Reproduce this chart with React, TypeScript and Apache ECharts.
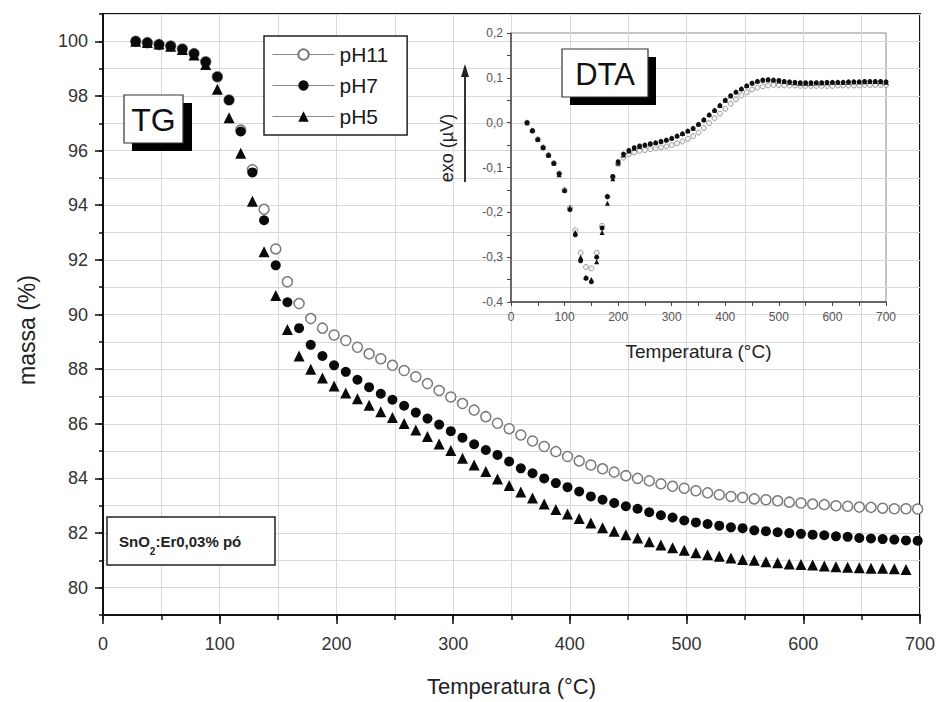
import React, { useEffect, useRef } from 'react';
import * as echarts from 'echarts';

// ---------- TG data (main plot) ----------
const tgTemps = [28, 38, 48, 58, 68, 78, 88, 98, 108, 118, 128, 138, 148, 158, 168, 178, 188, 198, 208, 218, 228, 238, 248, 258, 268, 278, 288, 298, 308, 318, 328, 338, 348, 358, 368, 378, 388, 398, 408, 418, 428, 438, 448, 458, 468, 478, 488, 498, 508, 518, 528, 538, 548, 558, 568, 578, 588, 598, 608, 618, 628, 638, 648, 658, 668, 678, 688, 698];

const tgPH11 = [100.0, 99.95, 99.88, 99.83, 99.72, 99.55, 99.25, 98.7, 97.85, 96.75,
  95.3, 93.85, 92.4, 91.2, 90.4, 89.85, 89.5, 89.25, 89.05, 88.8,
  88.56, 88.38, 88.14, 87.95, 87.72, 87.47, 87.22, 86.98, 86.74, 86.5,
  86.26, 86.02, 85.82, 85.59, 85.37, 85.17, 84.98, 84.8, 84.64, 84.49,
  84.35, 84.23, 84.1, 84.0, 83.91, 83.8, 83.71, 83.64, 83.55, 83.47,
  83.4, 83.34, 83.3, 83.25, 83.22, 83.18, 83.13, 83.1, 83.06, 83.04,
  83.0, 82.98, 82.95, 82.94, 82.91, 82.89, 82.89, 82.88];

const tgPH7 = [100.0, 99.95, 99.88, 99.83, 99.72, 99.55, 99.25, 98.7, 97.85, 96.7,
  95.2, 93.45, 91.8, 90.45, 89.5, 88.89, 88.48, 88.14, 87.9, 87.61,
  87.34, 87.1, 86.88, 86.66, 86.41, 86.19, 85.97, 85.73, 85.49, 85.25,
  85.04, 84.86, 84.62, 84.37, 84.19, 84.0, 83.83, 83.68, 83.52, 83.34,
  83.22, 83.1, 82.98, 82.89, 82.76, 82.65, 82.57, 82.46, 82.39, 82.33,
  82.27, 82.21, 82.18, 82.1, 82.07, 82.03, 82.0, 81.97, 81.94, 81.92,
  81.88, 81.86, 81.82, 81.8, 81.78, 81.76, 81.73, 81.72];

const tgPH5 = [100.0, 99.96, 99.9, 99.82, 99.7, 99.5, 99.15, 98.25, 97.2, 95.9,
  94.15, 92.3, 90.7, 89.45, 88.48, 88.0, 87.68, 87.38, 87.13, 86.92,
  86.68, 86.44, 86.23, 86.01, 85.77, 85.53, 85.26, 85.02, 84.74, 84.49,
  84.25, 83.98, 83.74, 83.5, 83.28, 83.06, 82.86, 82.7, 82.53, 82.37,
  82.19, 82.07, 81.94, 81.82, 81.68, 81.56, 81.46, 81.37, 81.28, 81.21,
  81.15, 81.09, 81.03, 81.0, 80.95, 80.91, 80.87, 80.85, 80.83, 80.79,
  80.77, 80.75, 80.73, 80.71, 80.71, 80.69, 80.67];

// ---------- DTA data (inset) ----------
const dtaTemps = [30, 40, 50, 60, 70, 80, 90, 100, 110, 120, 130, 140, 150, 160, 170, 180, 190, 200, 210, 220, 230, 240, 250, 260, 270, 280, 290, 300, 310, 320, 330, 340, 350, 360, 370, 380, 390, 400, 410, 420, 430, 440, 450, 460, 470, 480, 490, 500, 510, 520, 530, 540, 550, 560, 570, 580, 590, 600, 610, 620, 630, 640, 650, 660, 670, 680, 690, 700];

const dtaPH11 = [0.0, -0.018, -0.037, -0.055, -0.072, -0.09, -0.113, -0.15, -0.19, -0.24,
  -0.29, -0.322, -0.325, -0.29, -0.23, -0.165, -0.122, -0.092, -0.078, -0.07,
  -0.066, -0.063, -0.061, -0.059, -0.057, -0.055, -0.053, -0.05, -0.046, -0.042,
  -0.036, -0.03, -0.022, -0.012, -0.001, 0.01, 0.02, 0.031, 0.042, 0.052,
  0.061, 0.068, 0.074, 0.078, 0.081, 0.083, 0.084, 0.084, 0.083, 0.083,
  0.083, 0.082, 0.082, 0.082, 0.082, 0.082, 0.082, 0.082, 0.083, 0.083,
  0.083, 0.083, 0.083, 0.084, 0.084, 0.084, 0.084, 0.084];

const dtaPH7 = [0.0, -0.018, -0.038, -0.056, -0.073, -0.091, -0.114, -0.152, -0.194, -0.25,
  -0.308, -0.347, -0.355, -0.3, -0.235, -0.165, -0.12, -0.087, -0.07, -0.062,
  -0.056, -0.052, -0.05, -0.047, -0.045, -0.042, -0.039, -0.035, -0.03, -0.025,
  -0.019, -0.013, -0.004, 0.006, 0.017, 0.027, 0.038, 0.05, 0.06, 0.068,
  0.075, 0.082, 0.088, 0.092, 0.095, 0.096, 0.095, 0.094, 0.092, 0.091,
  0.09, 0.089, 0.089, 0.089, 0.089, 0.089, 0.09, 0.09, 0.09, 0.09,
  0.091, 0.091, 0.091, 0.092, 0.092, 0.092, 0.092, 0.091];

const dtaPH5 = [0.0, -0.017, -0.037, -0.055, -0.072, -0.09, -0.116, -0.15, -0.19, -0.245,
  -0.3, -0.345, -0.35, -0.31, -0.245, -0.18, -0.125, -0.09, -0.072, -0.063,
  -0.057, -0.053, -0.05, -0.047, -0.044, -0.041, -0.038, -0.034, -0.029, -0.024,
  -0.018, -0.012, -0.003, 0.007, 0.018, 0.028, 0.039, 0.05, 0.06, 0.069,
  0.076, 0.083, 0.089, 0.093, 0.095, 0.096, 0.095, 0.093, 0.092, 0.09,
  0.089, 0.088, 0.088, 0.088, 0.089, 0.089, 0.089, 0.09, 0.09, 0.09,
  0.09, 0.091, 0.091, 0.091, 0.092, 0.092, 0.091, 0.09];

// ---------- tick labels ----------
const tgXTicks = [0, 100, 200, 300, 400, 500, 600, 700];
const tgYTicks = [80, 82, 84, 86, 88, 90, 92, 94, 96, 98, 100];
const dtaXTicks = [0, 100, 200, 300, 400, 500, 600, 700];
const dtaYTicks = [-0.4, -0.3, -0.2, -0.1, 0, 0.1, 0.2];

const seriesNames = ['pH11', 'pH7', 'pH5'];

const FONT = '"Liberation Sans", Arial, Helvetica, sans-serif';

const pairs = (xs: number[], ys: number[]) => ys.map((y, i) => [xs[i], y]);

const fmtComma = (v: number) => {
  if (Math.abs(v) < 1e-9) return '0,0';
  return v.toFixed(1).replace('.', ',');
};

export default function App() {
  const ref = useRef<HTMLDivElement>(null);

  useEffect(() => {
    if (!ref.current) return;
    const chart = echarts.init(ref.current, undefined, { renderer: 'svg' });

    const gridLine = { show: true, lineStyle: { color: '#d9d9d9', width: 1 } };

    const option: any = {
      animation: false,
      backgroundColor: '#fff',
      textStyle: { fontFamily: FONT },
      grid: [
        { left: 103, right: 21, top: 14, bottom: 85, show: true, borderColor: '#111', borderWidth: 2, backgroundColor: 'transparent' },
        { left: 511, right: 55, top: 33, bottom: 400, show: true, borderColor: '#8a8a8a', borderWidth: 1, backgroundColor: 'transparent' },
      ],
      legend: {
        data: seriesNames,
        orient: 'vertical',
        left: 264,
        top: 36,
        itemWidth: 62,
        itemHeight: 13,
        itemGap: 10,
        padding: [8, 19, 8, 8],
        borderColor: '#222',
        borderWidth: 1.5,
        backgroundColor: '#fff',
        selectedMode: false,
        textStyle: { fontSize: 21, color: '#1a1a1a', fontFamily: FONT },
        lineStyle: { color: '#8a8a8a', width: 1, opacity: 1 },
        z: 20,
      },
      xAxis: [
        {
          gridIndex: 0, type: 'value', min: 0, max: 700, interval: 50,
          axisLine: { show: true, onZero: false, lineStyle: { color: '#111', width: 2 } },
          axisTick: { show: true, length: 5, lineStyle: { color: '#111', width: 1.5 } },
          axisLabel: { show: false },
          splitLine: gridLine,
        },
        {
          gridIndex: 0, type: 'value', min: 0, max: 700, position: 'bottom',
          axisLine: { show: false },
          axisTick: { show: true, customValues: tgXTicks, length: 9, lineStyle: { color: '#111', width: 1.5 } },
          axisLabel: { show: true, customValues: tgXTicks, fontSize: 18, color: '#333', margin: 20, fontFamily: FONT },
          splitLine: { show: false },
          name: 'Temperatura (°C)',
          nameLocation: 'middle',
          nameGap: 60,
          nameTextStyle: { fontSize: 22, color: '#222', fontFamily: FONT },
        },
        {
          gridIndex: 1, type: 'value', min: 0, max: 700, interval: 50,
          axisLine: { show: true, onZero: false, lineStyle: { color: '#444', width: 1.5 } },
          axisTick: { show: true, length: 4, lineStyle: { color: '#444', width: 1 } },
          axisLabel: { show: true, customValues: dtaXTicks, fontSize: 12, color: '#555', margin: 9, fontFamily: FONT },
          splitLine: { show: false },
          name: 'Temperatura (°C)',
          nameLocation: 'middle',
          nameGap: 40,
          nameTextStyle: { fontSize: 19, color: '#222', fontFamily: FONT },
        },
      ],
      yAxis: [
        {
          gridIndex: 0, type: 'value', min: 79, max: 101, interval: 1,
          axisLine: { show: true, onZero: false, lineStyle: { color: '#111', width: 2 } },
          axisTick: { show: true, length: 4, lineStyle: { color: '#111', width: 1.5 } },
          axisLabel: { show: false },
          splitLine: gridLine,
        },
        {
          gridIndex: 0, type: 'value', min: 79, max: 101, position: 'left',
          axisLine: { show: false },
          axisTick: { show: true, customValues: tgYTicks, length: 8, lineStyle: { color: '#111', width: 1.5 } },
          axisLabel: { show: true, customValues: tgYTicks, fontSize: 18, color: '#333', margin: 15, fontFamily: FONT },
          splitLine: { show: false },
        },
        {
          gridIndex: 1, type: 'value', min: -0.4, max: 0.2, interval: 0.05,
          axisLine: { show: true, onZero: false, lineStyle: { color: '#444', width: 1.5 } },
          axisTick: { show: true, length: 4, lineStyle: { color: '#444', width: 1 } },
          axisLabel: { show: true, customValues: dtaYTicks, fontSize: 12, color: '#555', margin: 8, fontFamily: FONT, formatter: (v: number) => fmtComma(v) },
          splitLine: { show: false },
        },
      ],
      series: [
        {
          name: 'pH11', type: 'line', xAxisIndex: 0, yAxisIndex: 0,
          data: pairs(tgTemps, tgPH11),
          symbol: 'circle', symbolSize: 10, showSymbol: true, showAllSymbol: true,
          lineStyle: { width: 0, opacity: 0 },
          itemStyle: { color: '#ffffff', borderColor: '#7a7a7a', borderWidth: 1.5, opacity: 1 },
          silent: true, z: 3,
        },
        {
          name: 'pH7', type: 'line', xAxisIndex: 0, yAxisIndex: 0,
          data: pairs(tgTemps, tgPH7),
          symbol: 'circle', symbolSize: 10, showSymbol: true, showAllSymbol: true,
          lineStyle: { width: 0, opacity: 0 },
          itemStyle: { color: '#0a0a0a', opacity: 1 },
          silent: true, z: 4,
        },
        {
          name: 'pH5', type: 'line', xAxisIndex: 0, yAxisIndex: 0,
          data: pairs(tgTemps, tgPH5),
          symbol: 'triangle', symbolSize: 11, showSymbol: true, showAllSymbol: true,
          lineStyle: { width: 0, opacity: 0 },
          itemStyle: { color: '#0a0a0a', opacity: 1 },
          silent: true, z: 5,
        },
        {
          name: 'DTA pH11', type: 'scatter', xAxisIndex: 2, yAxisIndex: 2,
          data: pairs(dtaTemps, dtaPH11),
          symbol: 'circle', symbolSize: 5,
          itemStyle: { color: '#f2f2f2', borderColor: '#9a9a9a', borderWidth: 1, opacity: 1 },
          silent: true, z: 3,
        },
        {
          name: 'DTA pH7', type: 'scatter', xAxisIndex: 2, yAxisIndex: 2,
          data: pairs(dtaTemps, dtaPH7),
          symbol: 'circle', symbolSize: 5,
          itemStyle: { color: '#111', opacity: 1 },
          silent: true, z: 4,
        },
        {
          name: 'DTA pH5', type: 'scatter', xAxisIndex: 2, yAxisIndex: 2,
          data: pairs(dtaTemps, dtaPH5),
          symbol: 'triangle', symbolSize: 5,
          itemStyle: { color: '#111', opacity: 1 },
          silent: true, z: 5,
        },
      ],
      graphic: [
        // y-axis title main
        {
          type: 'text', x: 27, y: 330, rotation: Math.PI / 2, z: 30,
          style: { text: 'massa (%)', fontSize: 23, fontFamily: FONT, fill: '#222', align: 'center', verticalAlign: 'middle' },
        },
        // inset y-axis title
        {
          type: 'text', x: 447, y: 148, rotation: Math.PI / 2, z: 30,
          style: { text: 'exo (µV)', fontSize: 18, fontFamily: FONT, fill: '#222', align: 'center', verticalAlign: 'middle' },
        },
        // exo arrow
        { type: 'line', z: 30, shape: { x1: 465, y1: 182, x2: 465, y2: 74 }, style: { stroke: '#333', lineWidth: 2 } },
        { type: 'polygon', z: 30, shape: { points: [[465, 64], [461, 77], [469, 77]] }, style: { fill: '#222' } },
        // TG box
        { type: 'rect', z: 30, shape: { x: 132, y: 103, width: 60, height: 48 }, style: { fill: '#000' } },
        { type: 'rect', z: 31, shape: { x: 124, y: 95, width: 59, height: 48 }, style: { fill: '#fff', stroke: '#333', lineWidth: 1.2 } },
        {
          type: 'text', z: 32, x: 153.5, y: 120,
          style: { text: 'TG', fontSize: 32, fontFamily: FONT, fill: '#111', align: 'center', verticalAlign: 'middle' },
        },
        // DTA box
        { type: 'rect', z: 30, shape: { x: 570, y: 57, width: 86, height: 48 }, style: { fill: '#000' } },
        { type: 'rect', z: 31, shape: { x: 562, y: 49, width: 86, height: 48 }, style: { fill: '#fff', stroke: '#333', lineWidth: 1.2 } },
        {
          type: 'text', z: 32, x: 605, y: 74,
          style: { text: 'DTA', fontSize: 31, fontFamily: FONT, fill: '#111', align: 'center', verticalAlign: 'middle' },
        },
        // sample label
        { type: 'rect', z: 30, shape: { x: 107, y: 517, width: 168, height: 48 }, style: { fill: '#fff', stroke: '#222', lineWidth: 1.5 } },
        {
          type: 'text', z: 31, x: 119, y: 541,
          style: {
            text: '{a|SnO}{s|2}{a|:Er0,03% pó}',
            align: 'left', verticalAlign: 'middle',
            rich: {
              a: { fontSize: 15, fontWeight: 'bold', fontFamily: FONT, fill: '#222', lineHeight: 30, verticalAlign: 'middle' },
              s: { fontSize: 10, fontWeight: 'bold', fontFamily: FONT, fill: '#222', lineHeight: 10, verticalAlign: 'bottom' },
            },
          },
        },
      ],
    };

    chart.setOption(option);
    return () => chart.dispose();
  }, []);

  return (
    <div
      ref={ref}
      style={{ position: 'absolute', left: 0, top: 0, width: 941, height: 702, background: '#fff' }}
    />
  );
}
